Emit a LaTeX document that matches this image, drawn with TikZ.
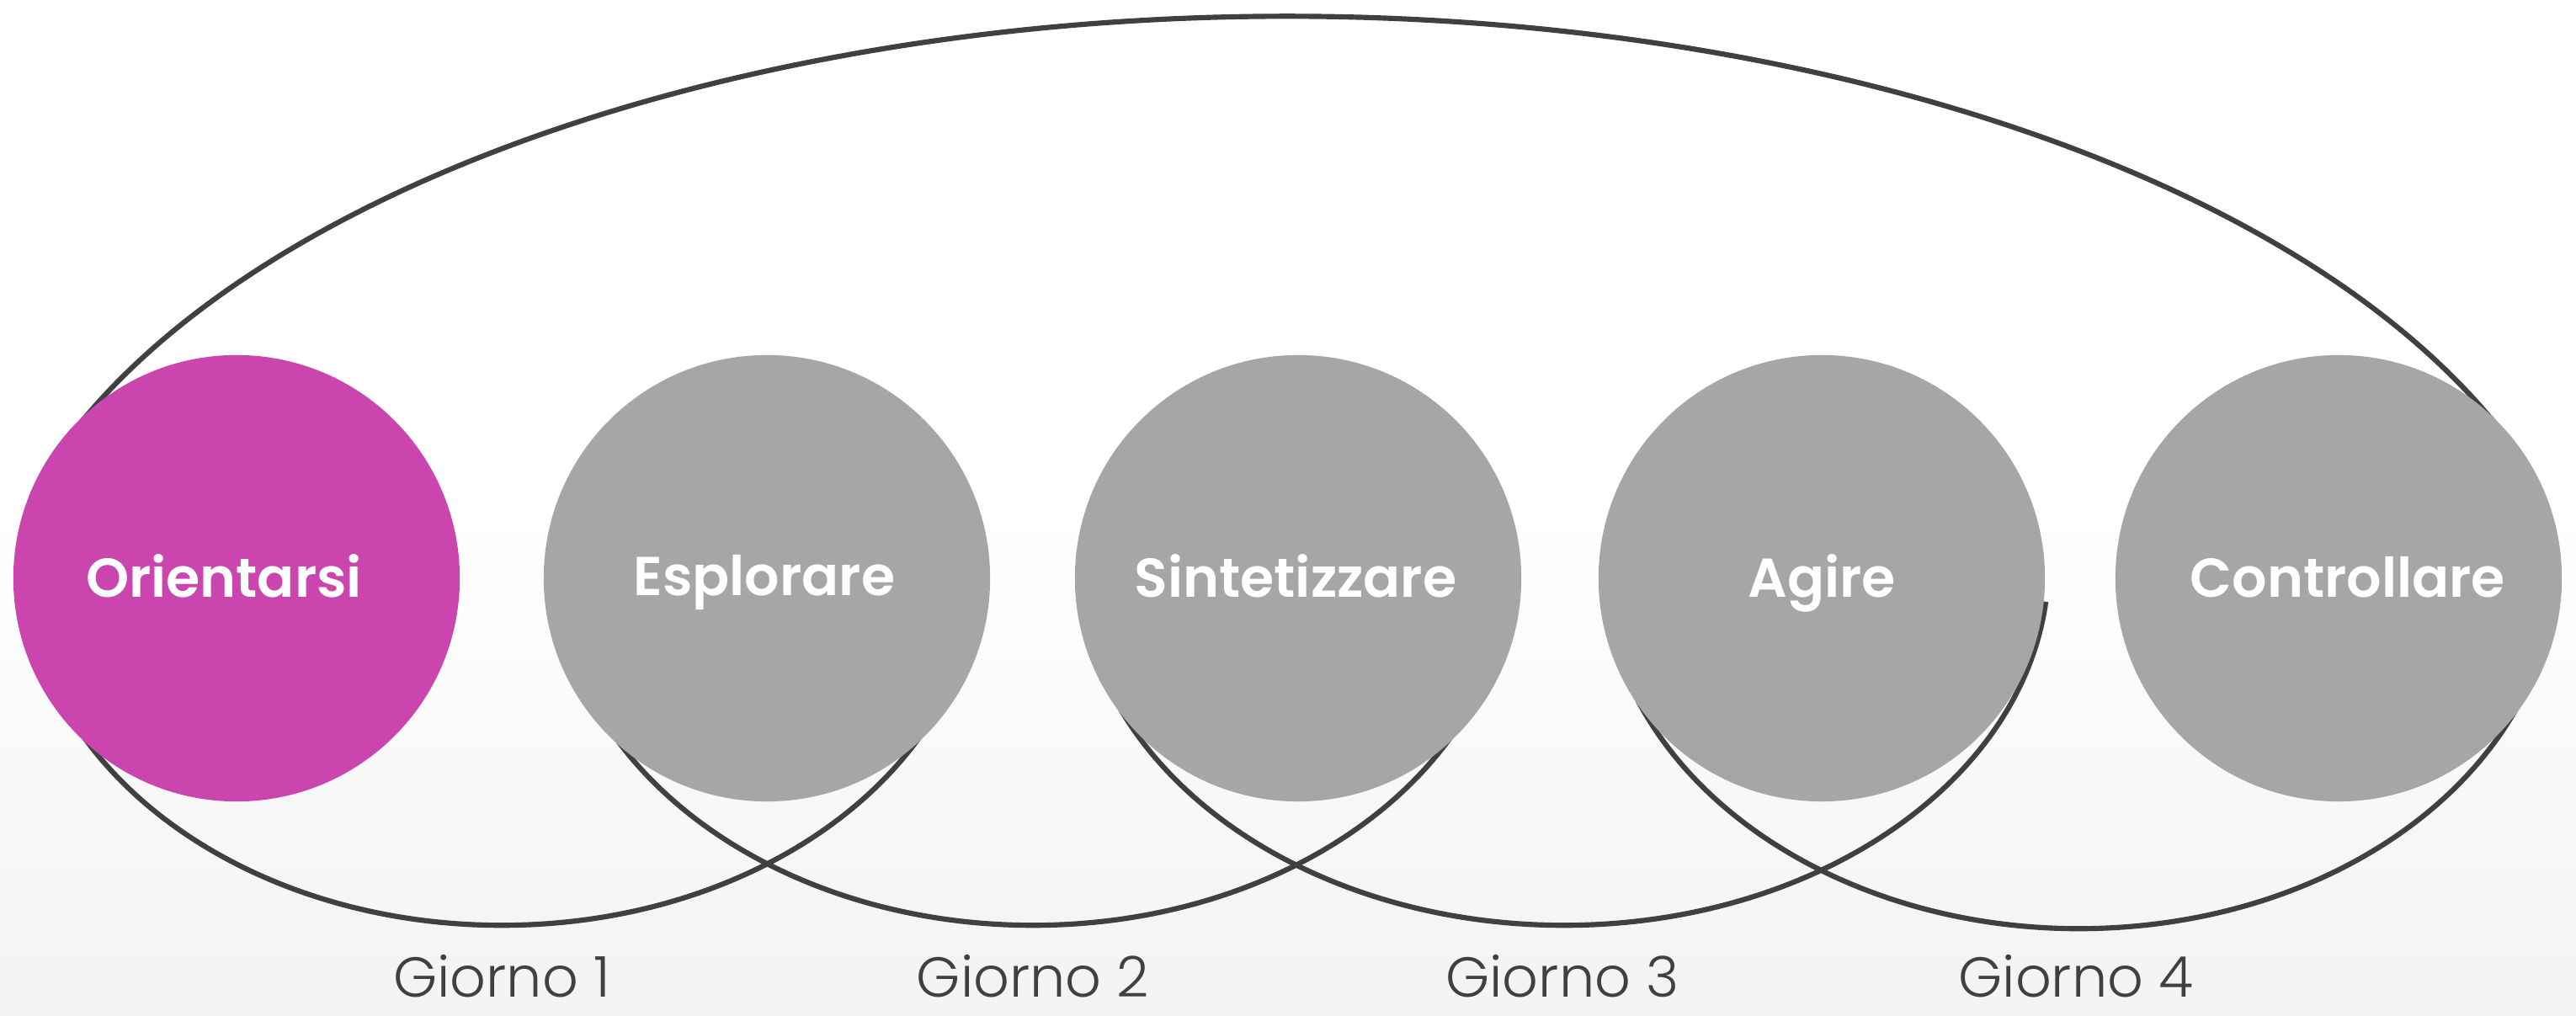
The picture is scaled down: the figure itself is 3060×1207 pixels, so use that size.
\documentclass[tikz,border=0pt]{standalone}
\usepackage{fontspec}
\newfontfamily\circfont{Poppins SemiBold}
\newfontfamily\dayfont{Poppins Light}
\definecolor{magentaC}{HTML}{CB45AF}
\definecolor{grayC}{HTML}{A6A6A6}
\definecolor{lineC}{HTML}{404040}
\definecolor{bgbot}{HTML}{F3F3F3}
\begin{document}
\begin{tikzpicture}[x=0.01cm,y=0.01cm,
  phase/.style={circle, minimum size=5.3cm, inner sep=0pt, draw=none},
  loopline/.style={draw=lineC, line width=1.75pt},
  phaselabel/.style={text=white, font=\circfont\fontsize{18.5}{23}\selectfont, anchor=base, inner sep=0pt},
  daylabel/.style={text=lineC, font=\dayfont\fontsize{19}{23}\selectfont, anchor=base, inner sep=0pt}]
\useasboundingbox (0,0) rectangle (3060,1207);
\fill[white] (0,600) rectangle (3060,1207);
\shade[top color=white, bottom color=bgbot] (0,0) rectangle (3060,600);

% centres of the loops
\coordinate (top) at (1529.5,407);
\coordinate (c1) at (596,537);
\coordinate (c2) at (1227,537);
\coordinate (c3) at (1858,537);
\coordinate (c4) at (2470,537);

% big upper arc
\draw[loopline] (top) ++(22:15.5cm and 7.8cm)
  arc[start angle=22, end angle=158, x radius=15.5cm, y radius=7.8cm];
% lower loops
\draw[loopline] (c1) ++(180:5.65cm and 4.29cm)
  arc[start angle=180, end angle=360, x radius=5.65cm, y radius=4.29cm];
\draw[loopline] (c2) ++(180:5.65cm and 4.29cm)
  arc[start angle=180, end angle=360, x radius=5.65cm, y radius=4.29cm];
\draw[loopline] (c3) ++(180:5.75cm and 4.29cm)
  arc[start angle=180, end angle=354, x radius=5.75cm, y radius=4.29cm];
\draw[loopline] (c4) ++(185:5.65cm and 4.33cm)
  arc[start angle=185, end angle=360, x radius=5.65cm, y radius=4.33cm];

% phases
\node[phase, fill=magentaC] (orient) at (281,520) {};
\node[phase, fill=grayC] (espl) at (911,520) {};
\node[phase, fill=grayC] (sint) at (1542,520) {};
\node[phase, fill=grayC] (agire) at (2164,520) {};
\node[phase, fill=grayC] (contr) at (2778,520) {};

\node[phaselabel] (orientT) at (266,497) {Orientarsi};
\node[phaselabel] (esplT) at (908,499) {Esplorare};
\node[phaselabel] (sintT) at (1539,497) {Sintetizzare};
\node[phaselabel] (agireT) at (2164,497) {Agire};
\node[phaselabel] (contrT) at (2789,497) {Controllare};

% days
\node[daylabel] (g1) at (596,22) {Giorno 1};
\node[daylabel] (g2) at (1227,22) {Giorno 2};
\node[daylabel] (g3) at (1856,22) {Giorno 3};
\node[daylabel] (g4) at (2466,22) {Giorno 4};
\end{tikzpicture}
\end{document}
